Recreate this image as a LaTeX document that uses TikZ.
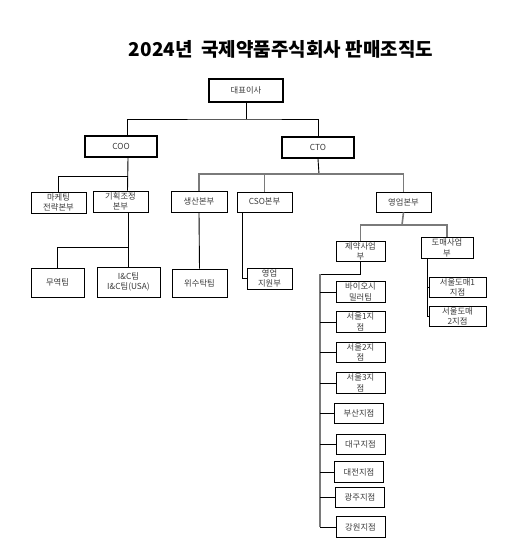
\documentclass[tikz,border=0pt]{standalone}
\usepackage{fontspec}
\setmainfont{Noto Sans CJK KR}
\usepackage{tikz}
\usetikzlibrary{positioning,calc}
\definecolor{boxtext}{HTML}{3A3A3A}
\definecolor{linegray}{HTML}{7A7A7A}

\begin{document}
\begin{tikzpicture}[
  x=1pt, y=-1pt,
  unit/.style={
    rectangle,
    draw=black,
    line width=0.8pt,
    fill=white,
    align=center,
    inner sep=0pt,
    text=boxtext,
    font=\fontsize{8.3}{10.5}\selectfont
  },
  head/.style={unit, line width=2pt},
  branch/.style={unit, minimum width=49pt, minimum height=20.5pt},
  link/.style={draw=black, line width=0.9pt},
  graylink/.style={draw=linegray, line width=1.6pt}
]
\useasboundingbox (0,0) rectangle (512,547);

\node[font=\bfseries\fontsize{19}{19}\selectfont] (title) at (281,49)
  {2024년~ 국제약품주식회사 판매조직도};

% top level
\node[head, minimum width=74pt, minimum height=23pt] (ceo) at (246,90.5) {대표이사};
\node[head, minimum width=72pt, minimum height=21pt] (coo) at (121,146.5) {COO};
\node[head, minimum width=72pt, minimum height=21pt] (cto) at (318,147.5) {CTO};

% divisions
\node[unit, minimum width=55pt, minimum height=21pt] (mkt) at (58.5,202.5) {마케팅\\전략본부};
\node[unit, minimum width=55pt, minimum height=21pt] (plan) at (120.5,201.5) {기획조정\\본부};
\node[unit, minimum width=56pt, minimum height=21pt] (prod) at (199,201.5) {생산본부};
\node[unit, minimum width=55pt, minimum height=20pt] (cso) at (264.5,202) {CSO본부};
\node[unit, minimum width=55pt, minimum height=20pt] (sales) at (403.5,202) {영업본부};

% teams
\node[unit, minimum width=53pt, minimum height=29pt] (trade) at (57.5,282.5) {무역팀};
\node[unit, minimum width=63pt, minimum height=30pt] (inc) at (128.5,282) {I\&C팀\\I\&C팀(USA)};
\node[unit, minimum width=55pt, minimum height=28pt] (oem) at (199.5,283) {위수탁팀};
\node[unit, minimum width=45pt, minimum height=21pt] (support) at (269.5,278.5) {영업\\지원부};

% sales divisions
\node[branch] (pharma) at (360.5,251.5) {제약사업\\부};
\node[branch, minimum width=52pt] (whole) at (447,248) {도매사업\\부};

\node[branch] (bio) at (360.5,292) {바이오시\\밀러팀};
\node[branch] (seoul1) at (360.5,322) {서울1지\\점};
\node[branch] (seoul2) at (360.5,352.5) {서울2지\\점};
\node[branch] (seoul3) at (360.5,383) {서울3지\\점};
\node[branch] (busan) at (359,413.5) {부산지점};
\node[branch] (daegu) at (360.5,444.5) {대구지점};
\node[branch] (daejeon) at (359,472) {대전지점};
\node[branch] (gwangju) at (360,497.5) {광주지점};
\node[branch] (gangwon) at (360.5,527) {강원지점};

\node[branch, minimum width=57pt] (wseoul1) at (457.5,287.5) {서울도매1\\지점};
\node[branch, minimum width=57pt] (wseoul2) at (457.5,316.5) {서울도매\\2지점};

% junctions
\coordinate (jtop) at (246,119);
\coordinate (jcoo) at (128,176);
\coordinate (jplan) at (128,247);
\coordinate (jcto) at (319,174);
\coordinate (jsales) at (402,225);
\coordinate (jpharma) at (320,274);

% connectors
\draw[link] (ceo) -- (jtop);
\draw[link] ([xshift=6]coo.north) |- (jtop) -| (cto.north);

\draw[link] ([xshift=7]coo.south) -- ([xshift=7]plan.north);
\draw[link] (jcoo) -| (mkt.north);
\draw[link] ([xshift=7.5]plan.south) -- (jplan);
\draw[link] (jplan) -| (trade.north);
\draw[link] (jplan) -- (jplan |- inc.north);

\draw[link] (cto.south) -- (jcto);
\draw[graylink] (prod.north) |- (sales.north |- jcto) -- (sales.north);
\draw[graylink] (cso.north) -- (cso.north |- jcto);
\draw[link] (prod.south) -- (oem.north);
\draw[link] ([xshift=-22.5]cso.south) |- (support.west);

\draw[graylink] (sales.south) -- (jsales);
\draw[graylink] (pharma.north) |- (jsales) -| (whole.north);

\draw[link] (pharma.south) |- (jpharma);
\draw[graylink] (jpharma) -- (jpharma |- gangwon.west);
\foreach \n in {bio,seoul1,seoul2,seoul3,busan,daegu,daejeon,gwangju,gangwon}
  \draw[link] (jpharma |- \n.west) -- (\n.west);

\draw[link] ([xshift=-20]whole.south) |- (wseoul2.west);
\draw[link] ([xshift=-20]whole.south |- wseoul1.west) -- (wseoul1.west);

\end{tikzpicture}
\end{document}
